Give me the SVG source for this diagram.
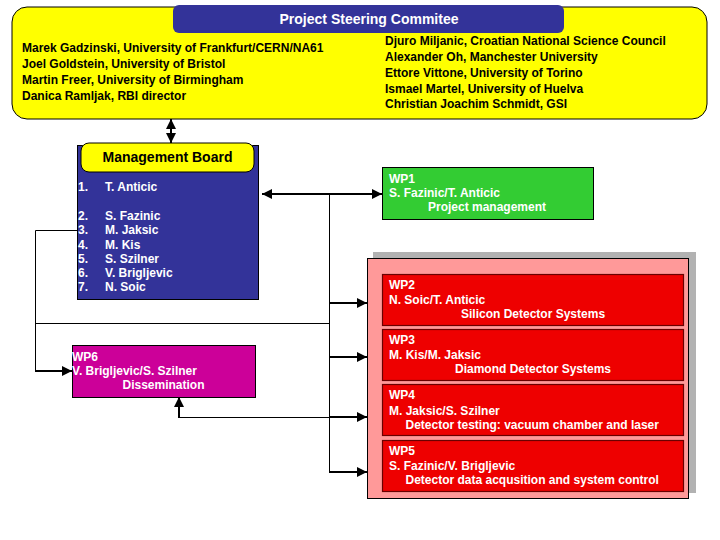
<svg xmlns="http://www.w3.org/2000/svg" width="720" height="540" viewBox="0 0 720 540">
<style>
text{font-family:"Liberation Sans",Arial,sans-serif;font-weight:bold;font-size:12px}
.w{fill:#ffffff}
.k{fill:#000000}
.t14{font-size:14px}
.wp{fill:#ee0000;stroke:#6a0000;stroke-width:1.2}
.ln{fill:none;stroke:#000;stroke-width:1}
.th{fill:none;stroke:#000;stroke-width:2}
</style>
<defs>
<marker id="ah" viewBox="0 0 10 10" refX="10" refY="5" markerWidth="10" markerHeight="10" markerUnits="userSpaceOnUse" orient="auto-start-reverse">
<path d="M0,0 L10,5 L0,10 z" fill="#000"/>
</marker>
</defs>
<rect width="720" height="540" fill="#ffffff"/>

<g id="steering">
<rect x="12" y="7" width="695" height="112" rx="15" fill="#ffff00" stroke="#000" stroke-width="1"/>
<rect x="173" y="5" width="391" height="28" rx="6" fill="#333399"/>
<text class="w t14" x="369" y="24" text-anchor="middle">Project Steering Commitee</text>
<text class="k" x="22" y="52">Marek Gadzinski, University of Frankfurt/CERN/NA61</text>
<text class="k" x="22" y="68">Joel Goldstein, University of Bristol</text>
<text class="k" x="22" y="84">Martin Freer, University of Birmingham</text>
<text class="k" x="22" y="100">Danica Ramljak, RBI director</text>
<text class="k" x="385" y="45">Djuro Miljanic, Croatian National Science Council</text>
<text class="k" x="385" y="61">Alexander Oh, Manchester University</text>
<text class="k" x="385" y="77">Ettore Vittone, University of Torino</text>
<text class="k" x="385" y="92.5">Ismael Martel, University of Huelva</text>
<text class="k" x="385" y="108">Christian Joachim Schmidt, GSI</text>
</g>

<g id="management">
<rect x="77.5" y="145.5" width="181" height="154" fill="#333399" stroke="#000" stroke-width="1"/>
<rect x="81" y="143" width="173" height="29" rx="8" fill="#ffff00" stroke="#000" stroke-width="1"/>
<text class="k t14" x="167.5" y="162" text-anchor="middle">Management Board</text>
<text class="w" x="78" y="191">1.</text><text class="w" x="105" y="191">T. Anticic</text>
<text class="w" x="78" y="220">2.</text><text class="w" x="105" y="220">S. Fazinic</text>
<text class="w" x="78" y="234">3.</text><text class="w" x="105" y="234">M. Jaksic</text>
<text class="w" x="78" y="249">4.</text><text class="w" x="105" y="249">M. Kis</text>
<text class="w" x="78" y="263">5.</text><text class="w" x="105" y="263">S. Szilner</text>
<text class="w" x="78" y="277">6.</text><text class="w" x="105" y="277">V. Brigljevic</text>
<text class="w" x="78" y="291">7.</text><text class="w" x="105" y="291">N. Soic</text>
</g>

<g id="wp1">
<rect x="382.5" y="167.5" width="211" height="52" fill="#33cc33" stroke="#000" stroke-width="1"/>
<text class="w" x="389" y="183">WP1</text>
<text class="w" x="389" y="197">S. Fazinic/T. Anticic</text>
<text class="w" x="428" y="211">Project management</text>
</g>

<g id="wp-group">
<rect x="373" y="252" width="323" height="241" fill="#b2b2b2"/>
<rect x="367.5" y="258.5" width="321" height="240" fill="#ff9999" stroke="#000" stroke-width="1"/>
</g>

<g id="wp2">
<rect class="wp" x="382.5" y="274.5" width="301" height="51"/>
<text class="w" x="389" y="288.5">WP2</text>
<text class="w" x="389" y="304">N. Soic/T. Anticic</text>
<text class="w" x="461" y="317.5">Silicon Detector Systems</text>
</g>
<g id="wp3">
<rect class="wp" x="382.5" y="329.5" width="301" height="51"/>
<text class="w" x="389" y="344">WP3</text>
<text class="w" x="389" y="359">M. Kis/M. Jaksic</text>
<text class="w" x="455" y="373">Diamond Detector Systems</text>
</g>
<g id="wp4">
<rect class="wp" x="382.5" y="384.5" width="301" height="51"/>
<text class="w" x="389" y="399">WP4</text>
<text class="w" x="389" y="415">M. Jaksic/S. Szilner</text>
<text class="w" x="405.5" y="428.5">Detector testing: vacuum chamber and laser</text>
</g>
<g id="wp5">
<rect class="wp" x="382.5" y="440.5" width="301" height="51"/>
<text class="w" x="389" y="455">WP5</text>
<text class="w" x="389" y="470">S. Fazinic/V. Brigljevic</text>
<text class="w" x="405.5" y="483.5">Detector data acqusition and system control</text>
</g>

<g id="wp6">
<rect x="72.5" y="345.5" width="183" height="52" fill="#cc0099" stroke="#000" stroke-width="1"/>
<text class="w" x="72" y="361">WP6</text>
<text class="w" x="72" y="375">V. Brigljevic/S. Szilner</text>
<text class="w" x="122.5" y="388.5">Dissemination</text>
</g>

<g id="connectors">
<line class="th" x1="171" y1="119" x2="171" y2="143" marker-start="url(#ah)" marker-end="url(#ah)"/>
<line class="th" x1="262" y1="194" x2="382" y2="194" marker-start="url(#ah)" marker-end="url(#ah)"/>
<line class="ln" x1="329.5" y1="194" x2="329.5" y2="472.5"/>
<line class="th" x1="329" y1="303" x2="367" y2="303" marker-end="url(#ah)"/>
<line class="th" x1="329" y1="357" x2="367" y2="357" marker-end="url(#ah)"/>
<line class="th" x1="329" y1="417" x2="367" y2="417" marker-end="url(#ah)"/>
<line class="th" x1="329" y1="472" x2="367" y2="472" marker-end="url(#ah)"/>
<polyline class="ln" points="77,230.5 35.5,230.5 35.5,371"/>
<line class="th" x1="35" y1="371" x2="72" y2="371" marker-end="url(#ah)"/>
<line class="ln" x1="35.5" y1="323.5" x2="329.5" y2="323.5"/>
<polyline class="ln" points="329.5,417.5 179,417.5"/>
<line class="th" x1="179" y1="418" x2="179" y2="397" marker-end="url(#ah)"/>
</g>
</svg>
